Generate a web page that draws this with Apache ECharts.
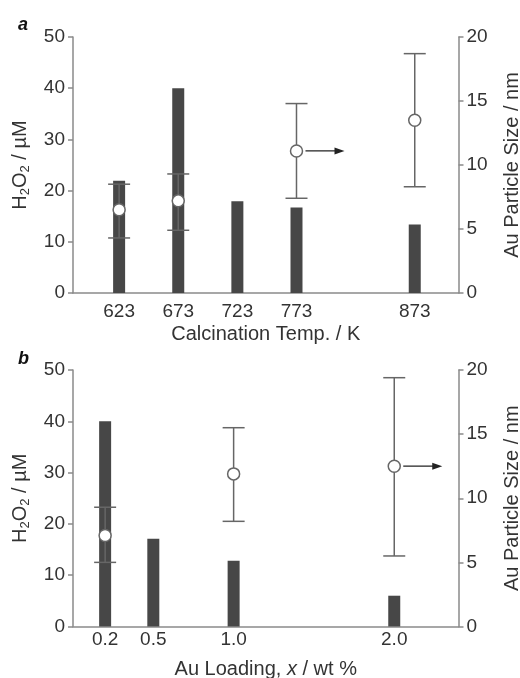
<!DOCTYPE html>
<html>
<head>
<meta charset="utf-8">
<script src="https://cdn.jsdelivr.net/npm/echarts@6/dist/echarts.min.js"></script>
<style>html,body{margin:0;padding:0;background:#fff}#c{width:520px;height:678px}</style>
</head>
<body>
<div id="c"></div>
<script>
// Panel a: calcination temperature
const tempCats = [623, 673, 723, 773, 873];
const tempH2O2 = [21.9, 40.0, 17.9, 16.7, 13.4];
const tempSizeX = [623, 673, 773, 873];
const tempSize = [6.5, 7.2, 11.1, 13.5];
const tempSizeLow = [4.3, 4.9, 7.4, 8.3];
const tempSizeHigh = [8.5, 9.3, 14.8, 18.7];
const tempArrowAt = [773, 11.1];
// Panel b: Au loading
const loadCats = [0.2, 0.5, 1.0, 2.0];
const loadH2O2 = [40.0, 17.1, 12.8, 6.0];
const loadSizeX = [0.2, 1.0, 2.0];
const loadSize = [7.1, 11.9, 12.5];
const loadSizeLow = [5.0, 8.2, 5.5];
const loadSizeHigh = [9.3, 15.5, 19.4];
const loadArrowAt = [2.0, 12.5];
// axis ticks [min, max, step]
const h2o2Ticks = [0, 50, 10];
const sizeTicks = [0, 20, 5];

const FONT = 'Liberation Sans, Arial, sans-serif';
const AX = '#8a8a8a';
const TXT = '#333';
const FS = 19;
const NFS = 20;

const chart = echarts.init(document.getElementById('c'), null, {renderer: 'canvas'});

function yLeft(gi) {
  return {
    type: 'value', gridIndex: gi, position: 'left', min: h2o2Ticks[0], max: h2o2Ticks[1], interval: h2o2Ticks[2],
    name: 'H{sub|2}O{sub|2} / µM', nameLocation: 'middle', nameGap: 41, nameRotate: 90,
    nameTextStyle: {fontFamily: FONT, fontSize: NFS, color: TXT,
      rich: {sub: {fontFamily: FONT, fontSize: 13, color: TXT, padding: [11, 0, 0, 0]}}},
    axisLine: {show: true, lineStyle: {color: AX, width: 1.5}},
    axisTick: {show: true, length: 5, lineStyle: {color: AX, width: 1.5}},
    axisLabel: {fontFamily: FONT, fontSize: FS, color: TXT, margin: 8},
    splitLine: {show: false}
  };
}
function yRight(gi) {
  return {
    type: 'value', gridIndex: gi, position: 'right', min: sizeTicks[0], max: sizeTicks[1], interval: sizeTicks[2],
    name: 'Au Particle Size / nm', nameLocation: 'middle', nameGap: 44, nameRotate: 90,
    nameTextStyle: {fontFamily: FONT, fontSize: NFS, color: TXT},
    axisLine: {show: true, lineStyle: {color: AX, width: 1.5}},
    axisTick: {show: true, length: 5, lineStyle: {color: AX, width: 1.5}},
    axisLabel: {fontFamily: FONT, fontSize: FS, color: TXT, margin: 8},
    splitLine: {show: false}
  };
}
function xAxis(gi, min, max, interval, cats, digits, name, nameRich, margin, gap) {
  return {
    type: 'value', gridIndex: gi, min: min, max: max, interval: interval,
    name: name, nameLocation: 'middle', nameGap: gap,
    nameTextStyle: {fontFamily: FONT, fontSize: NFS, color: TXT, rich: nameRich},
    axisLine: {show: true, onZero: false, lineStyle: {color: AX, width: 1.5}},
    axisTick: {show: false},
    splitLine: {show: false},
    axisLabel: {fontFamily: FONT, fontSize: FS, color: TXT, margin: margin,
      showMinLabel: true, showMaxLabel: true,
      formatter: function (v) {
        return cats.some(c => Math.abs(c - v) < 1e-6) ? v.toFixed(digits) : '';
      }}
  };
}

function errRender(params, api) {
  const x = api.value(0), lo = api.value(1), hi = api.value(2);
  const pl = api.coord([x, lo]), ph = api.coord([x, hi]);
  const hw = 11;
  const st = {stroke: '#666', lineWidth: 1.5};
  return {type: 'group', children: [
    {type: 'line', shape: {x1: pl[0], y1: pl[1], x2: ph[0], y2: ph[1]}, style: st},
    {type: 'line', shape: {x1: pl[0] - hw, y1: pl[1], x2: pl[0] + hw, y2: pl[1]}, style: st},
    {type: 'line', shape: {x1: ph[0] - hw, y1: ph[1], x2: ph[0] + hw, y2: ph[1]}, style: st}
  ]};
}
function arrowRender(params, api) {
  const p = api.coord([api.value(0), api.value(1)]);
  const x0 = p[0] + 9, x1 = p[0] + 48, y = p[1];
  return {type: 'group', children: [
    {type: 'line', shape: {x1: x0, y1: y, x2: x1 - 6, y2: y}, style: {stroke: '#222', lineWidth: 1.3}},
    {type: 'polygon', shape: {points: [[x1, y], [x1 - 10, y - 3.5], [x1 - 10, y + 3.5]]}, style: {fill: '#222'}}
  ]};
}

const zip2 = (a, b) => a.map((v, i) => [v, b[i]]);
const zip3 = (a, b, c) => a.map((v, i) => [v, b[i], c[i]]);

const barStyle = {color: '#474747'};
const circStyle = {color: '#fff', borderColor: '#666', borderWidth: 1.5, opacity: 1};

const option = {
  animation: false,
  backgroundColor: '#fff',
  title: [
    {text: 'a', left: 13, top: 11, textStyle: {fontFamily: FONT, fontSize: 18, fontWeight: 'bold', fontStyle: 'italic', color: '#111'}},
    {text: 'b', left: 13, top: 345, textStyle: {fontFamily: FONT, fontSize: 18, fontWeight: 'bold', fontStyle: 'italic', color: '#111'}}
  ],
  grid: [
    {left: 73, top: 37, width: 385.5, height: 256, containLabel: false, outerBoundsMode: 'none'},
    {left: 73, top: 370, width: 385.5, height: 256.5, containLabel: false, outerBoundsMode: 'none'}
  ],
  xAxis: [
    xAxis(0, 584, 910, 1, tempCats, 0, 'Calcination Temp. / K', {}, 9, 31),
    xAxis(1, 0, 2.4, 0.1, loadCats, 1, 'Au Loading, {it|x} / wt %',
      {it: {fontFamily: FONT, fontSize: NFS, color: TXT, fontStyle: 'italic'}}, 4, 33)
  ],
  yAxis: [yLeft(0), yRight(0), yLeft(1), yRight(1)],
  series: [
    {type: 'bar', xAxisIndex: 0, yAxisIndex: 0, barWidth: 12, itemStyle: barStyle, data: zip2(tempCats, tempH2O2), z: 2},
    {type: 'custom', xAxisIndex: 0, yAxisIndex: 1, renderItem: errRender, encode: {x: 0, y: [1, 2]},
      data: zip3(tempSizeX, tempSizeLow, tempSizeHigh), z: 3},
    {type: 'scatter', xAxisIndex: 0, yAxisIndex: 1, symbol: 'circle', symbolSize: 12, itemStyle: circStyle,
      data: zip2(tempSizeX, tempSize), z: 4},
    {type: 'custom', xAxisIndex: 0, yAxisIndex: 1, renderItem: arrowRender, encode: {x: 0, y: 1},
      data: [tempArrowAt], z: 4},

    {type: 'bar', xAxisIndex: 1, yAxisIndex: 2, barWidth: 12, itemStyle: barStyle, data: zip2(loadCats, loadH2O2), z: 2},
    {type: 'custom', xAxisIndex: 1, yAxisIndex: 3, renderItem: errRender, encode: {x: 0, y: [1, 2]},
      data: zip3(loadSizeX, loadSizeLow, loadSizeHigh), z: 3},
    {type: 'scatter', xAxisIndex: 1, yAxisIndex: 3, symbol: 'circle', symbolSize: 12, itemStyle: circStyle,
      data: zip2(loadSizeX, loadSize), z: 4},
    {type: 'custom', xAxisIndex: 1, yAxisIndex: 3, renderItem: arrowRender, encode: {x: 0, y: 1},
      data: [loadArrowAt], z: 4}
  ]
};
chart.setOption(option);
</script>
</body>
</html>
